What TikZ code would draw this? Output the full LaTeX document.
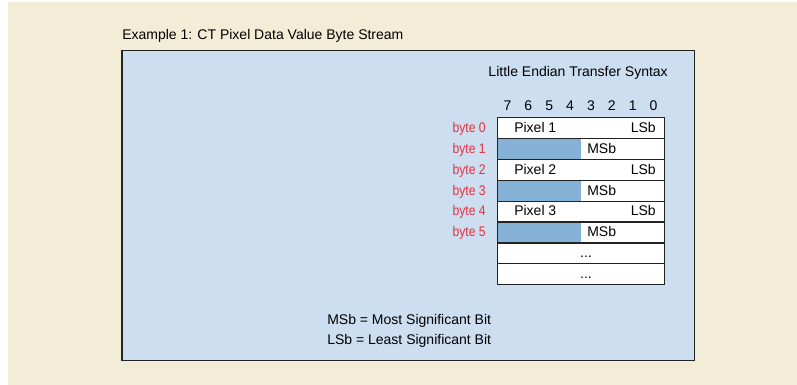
\documentclass[tikz,border=0pt]{standalone}
\usepackage{fontspec}
\setmainfont{Liberation Sans}
\newfontfamily\narrowsans[FakeStretch=0.87]{Liberation Sans}
\usetikzlibrary{calc}
\definecolor{paper}{HTML}{F3ECD6}
\definecolor{panel}{HTML}{CCDEEF}
\definecolor{msbblue}{HTML}{86B1D7}
\definecolor{bytered}{HTML}{E5333F}
\definecolor{edge}{HTML}{222222}
\tikzset{
  lbl/.style={font=\fontsize{10.5}{12.6}\selectfont, inner sep=0pt},
  bytelbl/.style={lbl, font=\narrowsans\fontsize{10.5}{12.6}\selectfont, text=bytered, anchor=base east},
  bytecell/.style={draw=edge, line width=1pt, fill=white, anchor=north west,
    minimum width=125.25pt, minimum height=15.66pt, inner sep=0pt},
  msbcell/.style={bytecell, path picture={
      \fill[msbblue] (path picture bounding box.north west) rectangle
        ($(path picture bounding box.south west)!.5!(path picture bounding box.south east)$);}},
}
\begin{document}
\begin{tikzpicture}[x=0.75pt, y=-0.75pt]
  \useasboundingbox (0,0) rectangle (797,385);
  % Background
  \fill[paper] (8,2) rectangle (797,385);
  \node[lbl, anchor=base west] (title) at (122,39.3) {Example 1: CT Pixel Data Value Byte Stream};
  % Panel
  \draw[edge, line width=1.2pt, fill=panel] (122,50.5) rectangle (694.5,360.5);
  \node[lbl, anchor=base east] (syntax) at (668,76.7) {Little Endian Transfer Syntax};
  % Bit numbers
  \foreach \b [count=\k from 0] in {7,6,5,4,3,2,1,0}
    \node[lbl, anchor=base] (bit\b) at ({507.4+20.875*\k},110.7) {\b};
  % Byte rows
  \foreach \i in {0,2,4,6,7}
    \node[bytecell] (row\i) at (497,{117+20.875*\i}) {};
  \foreach \i in {1,3,5}
    \node[msbcell] (row\i) at (497,{117+20.875*\i}) {};
  \foreach \i in {0,...,5}
    \node[bytelbl] (byte\i) at (486,{132.4+20.875*\i}) {byte \i};
  % Cell texts
  \foreach \i/\p in {0/1,2/2,4/3} {
    \node[lbl, anchor=base west] (pixel\p) at (514,{132.4+20.875*\i}) {Pixel \p};
    \node[lbl, anchor=base east] (lsb\p) at (656,{132.4+20.875*\i}) {LSb};
  }
  \foreach \i in {1,3,5}
    \node[lbl, anchor=base west] (msb\i) at (587,{132.4+20.875*\i}) {MSb};
  \node[lbl, anchor=base] (more1) at (586,{132.4+20.875*6}) {...};
  \node[lbl, anchor=base] (more2) at (586,{132.4+20.875*7}) {...};
  % Legend
  \node[lbl, anchor=base west] (keymsb) at (327,324.3) {MSb = Most Significant Bit};
  \node[lbl, anchor=base west] (keylsb) at (327,344) {LSb = Least Significant Bit};
\end{tikzpicture}
\end{document}
